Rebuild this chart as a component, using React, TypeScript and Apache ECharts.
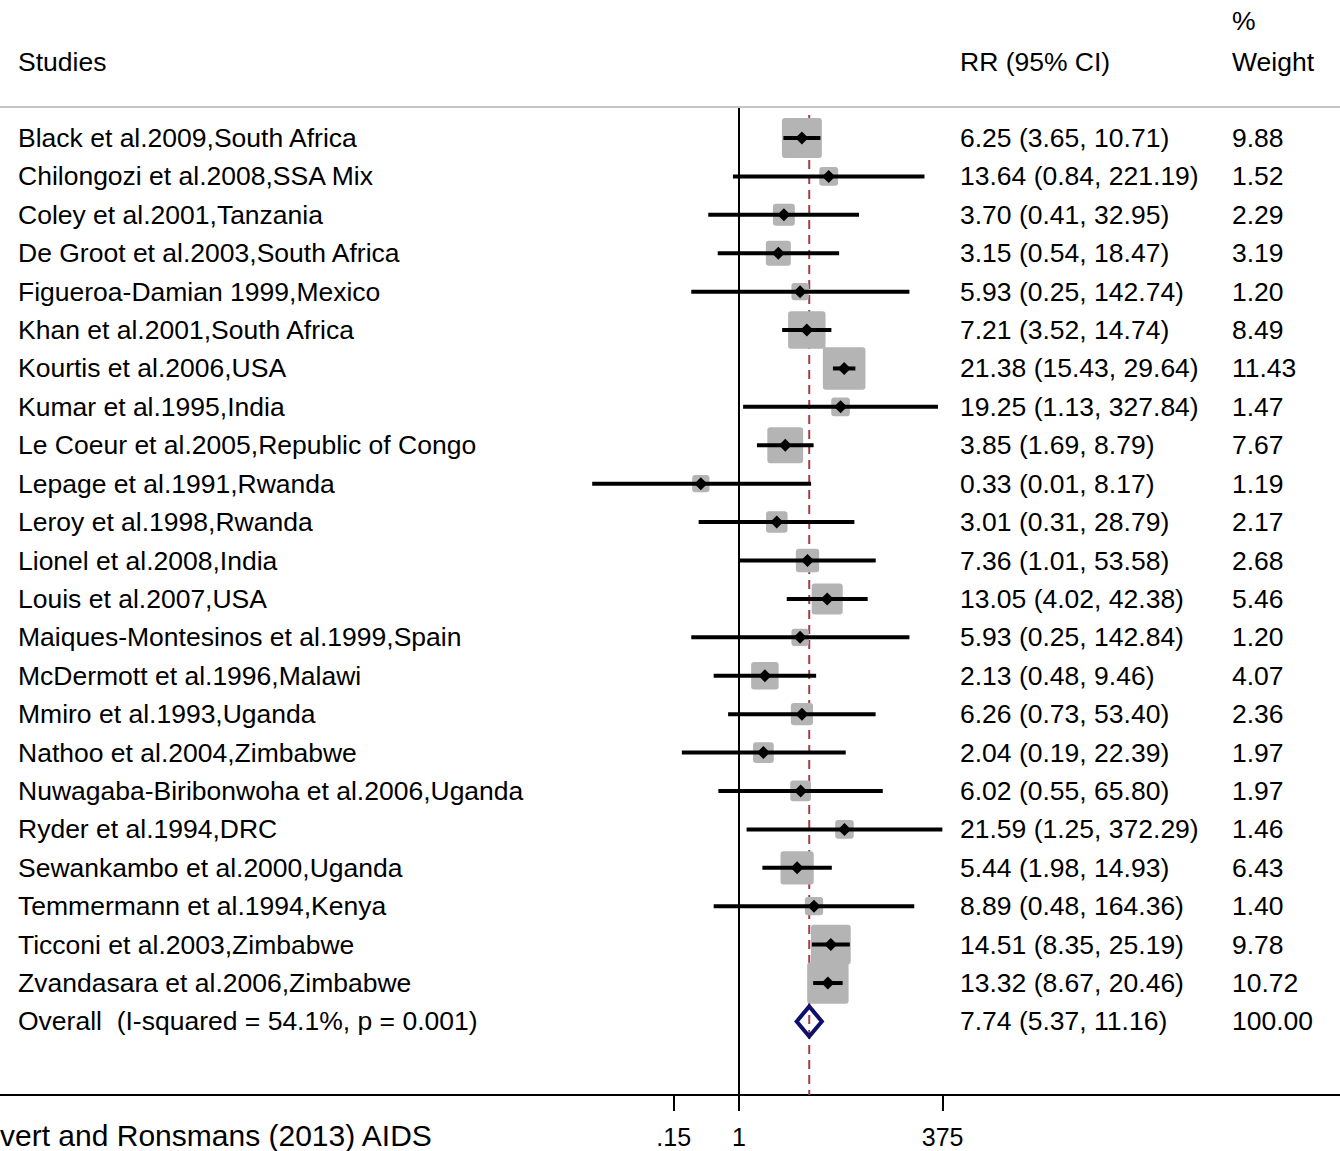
import React, { useEffect, useRef } from "react";
import * as echarts from "echarts";

const studyNames = [
  "Black et al.2009,South Africa",
  "Chilongozi et al.2008,SSA Mix",
  "Coley et al.2001,Tanzania",
  "De Groot et al.2003,South Africa",
  "Figueroa-Damian 1999,Mexico",
  "Khan et al.2001,South Africa",
  "Kourtis et al.2006,USA",
  "Kumar et al.1995,India",
  "Le Coeur et al.2005,Republic of Congo",
  "Lepage et al.1991,Rwanda",
  "Leroy et al.1998,Rwanda",
  "Lionel et al.2008,India",
  "Louis et al.2007,USA",
  "Maiques-Montesinos et al.1999,Spain",
  "McDermott et al.1996,Malawi",
  "Mmiro et al.1993,Uganda",
  "Nathoo et al.2004,Zimbabwe",
  "Nuwagaba-Biribonwoha et al.2006,Uganda",
  "Ryder et al.1994,DRC",
  "Sewankambo et al.2000,Uganda",
  "Temmermann et al.1994,Kenya",
  "Ticconi et al.2003,Zimbabwe",
  "Zvandasara et al.2006,Zimbabwe",
];
const rrValues = [6.25, 13.64, 3.7, 3.15, 5.93, 7.21, 21.38, 19.25, 3.85, 0.33, 3.01, 7.36, 13.05, 5.93, 2.13, 6.26, 2.04, 6.02, 21.59, 5.44, 8.89, 14.51, 13.32];
const ciLower = [3.65, 0.84, 0.41, 0.54, 0.25, 3.52, 15.43, 1.13, 1.69, 0.014, 0.31, 1.01, 4.02, 0.25, 0.48, 0.73, 0.19, 0.55, 1.25, 1.98, 0.48, 8.35, 8.67];
const ciUpper = [10.71, 221.19, 32.95, 18.47, 142.74, 14.74, 29.64, 327.84, 8.79, 8.17, 28.79, 53.58, 42.38, 142.84, 9.46, 53.4, 22.39, 65.8, 372.29, 14.93, 164.36, 25.19, 20.46];
const weights = [9.88, 1.52, 2.29, 3.19, 1.2, 8.49, 11.43, 1.47, 7.67, 1.19, 2.17, 2.68, 5.46, 1.2, 4.07, 2.36, 1.97, 1.97, 1.46, 6.43, 1.4, 9.78, 10.72];

const overallLabel = "Overall  (I-squared = 54.1%, p = 0.001)";
const overallRR = 7.74;
const overallLower = 5.37;
const overallUpper = 11.16;
const overallWeight = 100.0;

const tickValues = [0.15, 1, 375];
const tickLabels = [".15", "1", "375"];

const headerStudies = "Studies";
const headerRR = "RR (95% CI)";
const headerPct = "%";
const headerWeight = "Weight";
const sourceNote = "vert and Ronsmans (2013) AIDS";

const FONT = "'Liberation Sans', Arial, Helvetica, sans-serif";
const FS = 26.5;

export default function App() {
  const ref = useRef<HTMLDivElement>(null);

  useEffect(() => {
    if (!ref.current) return;
    const chart = echarts.init(ref.current, undefined, { renderer: "svg" });

    const labels = [...studyNames, overallLabel];
    const ests = [...rrValues, overallRR];
    const los = [...ciLower, overallLower];
    const his = [...ciUpper, overallUpper];
    const ws = [...weights, overallWeight];
    const rrTexts = ests.map((e, i) => `${e.toFixed(2)} (${los[i].toFixed(2)}, ${his[i].toFixed(2)})`);
    const wTexts = ws.map((w) => w.toFixed(2));

    const data = labels.map((_, i) => [
      Math.log(ests[i]),
      i,
      Math.log(los[i]),
      Math.log(his[i]),
      ws[i],
      i === labels.length - 1 ? 1 : 0,
    ]);

    const xMin = -21.5;
    const xMax = 17.49;
    const yMin = -0.807;
    const yMax = 24.915;

    const logTicks = tickValues.map((v) => Math.log(v));
    const fmt = (val: number) => {
      let best = 0;
      let bd = Infinity;
      logTicks.forEach((t, i) => {
        const d = Math.abs(t - val);
        if (d < bd) {
          bd = d;
          best = i;
        }
      });
      return tickLabels[best];
    };

    const textStyle = (text: string, size = FS) => ({
      text,
      fontSize: size,
      fontFamily: FONT,
      fill: "#000",
      align: "left",
      verticalAlign: "middle",
    });

    const option: any = {
      animation: false,
      backgroundColor: "#fff",
      grid: { left: 0, right: 0, top: 107, bottom: 56, containLabel: false },
      xAxis: [
        {
          type: "value",
          min: xMin,
          max: xMax,
          position: "bottom",
          axisLine: { show: true, onZero: false, lineStyle: { color: "#000", width: 2 } },
          axisTick: { show: true, inside: false, length: 16, customValues: logTicks, lineStyle: { color: "#000", width: 2 } },
          axisLabel: {
            show: true,
            customValues: logTicks,
            formatter: fmt,
            fontSize: 25,
            fontFamily: FONT,
            color: "#000",
            margin: 29,
          },
          splitLine: { show: false },
        },
        {
          type: "value",
          min: xMin,
          max: xMax,
          position: "top",
          axisLine: { show: true, onZero: false, lineStyle: { color: "#c4c4c4", width: 2 } },
          axisTick: { show: false },
          axisLabel: { show: false },
          splitLine: { show: false },
        },
      ],
      yAxis: {
        type: "value",
        inverse: true,
        min: yMin,
        max: yMax,
        axisLine: { show: true, onZero: true, lineStyle: { color: "#000", width: 2 } },
        axisTick: { show: false },
        axisLabel: { show: false },
        splitLine: { show: false },
      },
      graphic: [
        { type: "text", x: 18, y: 62, style: textStyle(headerStudies) },
        { type: "text", x: 960, y: 62, style: textStyle(headerRR) },
        { type: "text", x: 1232, y: 21, style: textStyle(headerPct) },
        { type: "text", x: 1232, y: 62, style: textStyle(headerWeight) },
        { type: "text", x: 0, y: 1135, style: textStyle(sourceNote, 30) },
      ],
      series: [
        {
          type: "line",
          xAxisIndex: 0,
          z: 1,
          symbol: "none",
          silent: true,
          data: [
            [Math.log(overallRR), -0.6],
            [Math.log(overallRR), yMax],
          ],
          lineStyle: { color: "#a33c4b", width: 2, type: [9, 6] },
        },
        {
          type: "custom",
          xAxisIndex: 0,
          z: 2,
          clip: false,
          encode: { x: 0, y: 1 },
          data,
          renderItem: (params: any, api: any) => {
            const idx = params.dataIndex;
            const row = api.value(1);
            const est = api.value(0);
            const lo = api.value(2);
            const hi = api.value(3);
            const w = api.value(4);
            const isOverall = api.value(5) === 1;
            const [cx, cy] = api.coord([est, row]);
            const xl = api.coord([lo, row])[0];
            const xh = api.coord([hi, row])[0];
            const children: any[] = [];
            if (isOverall) {
              children.push({
                type: "polygon",
                shape: { points: [[xl, cy], [cx, cy - 15], [xh, cy], [cx, cy + 15]] },
                style: { fill: "none", stroke: "#0f0f6e", lineWidth: 4 },
              });
            } else {
              const s = 11.06 * Math.sqrt(w) + 5.2;
              children.push({
                type: "rect",
                shape: { x: cx - s / 2, y: cy - s / 2, width: s, height: s, r: 3 },
                style: { fill: "#b4b4b4" },
              });
              children.push({
                type: "line",
                shape: { x1: xl, y1: cy, x2: xh, y2: cy },
                style: { stroke: "#000", lineWidth: 4 },
              });
              const m = 6.5;
              children.push({
                type: "polygon",
                shape: { points: [[cx - m, cy], [cx, cy - m], [cx + m, cy], [cx, cy + m]] },
                style: { fill: "#000" },
              });
            }
            children.push({ type: "text", x: 18, y: cy, style: textStyle(labels[idx]) });
            children.push({ type: "text", x: 960, y: cy, style: textStyle(rrTexts[idx]) });
            children.push({ type: "text", x: 1232, y: cy, style: textStyle(wTexts[idx]) });
            return { type: "group", children };
          },
        },
      ],
    };

    chart.setOption(option);
    return () => chart.dispose();
  }, []);

  return (
    <div
      ref={ref}
      style={{ position: "absolute", left: 0, top: 0, width: 1340, height: 1151, background: "#fff" }}
    />
  );
}
